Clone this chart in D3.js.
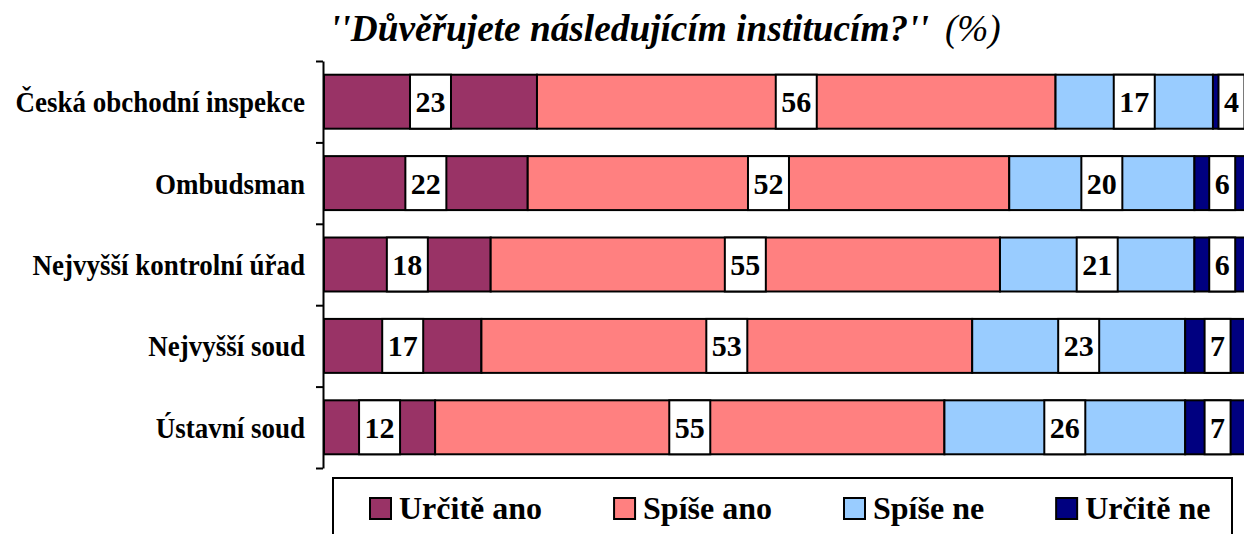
<!DOCTYPE html>
<html>
<head>
<meta charset="utf-8">
<script src="https://cdn.jsdelivr.net/npm/d3@7"></script>
<style>
  body { margin: 0; background: #fff; }
</style>
</head>
<body>
<div id="chart"></div>
<script>
// data
var categories = ["Česká obchodní inspekce", "Ombudsman", "Nejvyšší kontrolní úřad", "Nejvyšší soud", "Ústavní soud"]
var seriesNames = ["Určitě ano", "Spíše ano", "Spíše ne", "Určitě ne"]
var urciteAno = [23, 22, 18, 17, 12]
var spiseAno = [56, 52, 55, 53, 55]
var spiseNe = [17, 20, 21, 23, 26]
var urciteNe = [4, 6, 6, 7, 7]
var colors = ["#993366", "#FF8080", "#99CCFF", "#000080"]

var width = 1244, height = 534
var serif = "'Liberation Serif', 'Times New Roman', Times, serif"

var svg = d3.select("#chart")
  .append("svg")
    .attr("width", width)
    .attr("height", height)

// title - fitted to the width it has in the original
var title = svg.append("text")
  .attr("x", 330)
  .attr("y", 41)
  .attr("font-family", serif)
  .style("font-size", "30px")
  .style("font-style", "italic")
title.append("tspan").style("font-weight", "bold").text("''Důvěřujete následujícím institucím?''")
title.append("tspan").attr("dx", 16).text("(%)")
var tw = title.node().getComputedTextLength() + 16
title.style("font-size", (30 * 675 / tw) + "px")

// build rows for the stack
var rows = categories.map(function (c, i) {
  return { cat: c, "Určitě ano": urciteAno[i], "Spíše ano": spiseAno[i], "Spíše ne": spiseNe[i], "Určitě ne": urciteNe[i] }
})
var stacked = d3.stack().keys(seriesNames)(rows)

var x = d3.scaleLinear().domain([0, 100]).range([324, 1250])
var y = d3.scaleBand().domain(categories).range([61, 468]).paddingInner(0.337).paddingOuter(0.337 / 2)

var color = d3.scaleOrdinal().domain(seriesNames).range(colors)

// bars
var layer = svg.selectAll(".layer")
  .data(stacked)
  .enter()
  .append("g")
    .attr("fill", function (d) { return color(d.key) })

layer.selectAll("rect")
  .data(function (d) { return d })
  .enter()
  .append("rect")
    .attr("x", function (d) { return x(d[0]) })
    .attr("y", function (d) { return y(d.data.cat) })
    .attr("width", function (d) { return x(d[1]) - x(d[0]) })
    .attr("height", y.bandwidth())
    .attr("stroke", "#000")
    .attr("stroke-width", 2)

// value labels in white boxes
stacked.forEach(function (s) {
  s.forEach(function (d) {
    var cx = (x(d[0]) + x(d[1])) / 2
    var cy = y(d.data.cat) + y.bandwidth() / 2
    var v = d[1] - d[0]
    var g = svg.append("g")
    var t = g.append("text")
      .attr("x", cx)
      .attr("y", cy + 10.5)
      .attr("text-anchor", "middle")
      .attr("font-family", serif)
      .style("font-size", "30px")
      .style("font-weight", "bold")
      .text(v)
    var w = t.node().getComputedTextLength() + 11
    g.insert("rect", "text")
      .attr("x", cx - w / 2)
      .attr("y", y(d.data.cat))
      .attr("width", w)
      .attr("height", y.bandwidth())
      .attr("fill", "#fff")
      .attr("stroke", "#000")
      .attr("stroke-width", 2)
  })
})

// axis with ticks between categories
var yTicks = d3.scaleLinear().domain([0, categories.length]).range(y.range())
svg.append("g")
  .attr("transform", "translate(323,0)")
  .call(d3.axisLeft(yTicks).tickValues(d3.range(categories.length + 1)).tickFormat("").tickSize(7).tickSizeOuter(0))
  .call(function (g) { g.selectAll("line, path").attr("stroke", "#000").attr("stroke-width", 2) })

// category labels (slightly stretched vertically like the original)
svg.selectAll(".cat")
  .data(categories)
  .enter()
  .append("text")
    .attr("transform", function (d) { return "translate(305," + (y(d) + y.bandwidth() / 2 + 10.5) + ") scale(1,1.1)" })
    .attr("text-anchor", "end")
    .attr("font-family", serif)
    .style("font-size", "27px")
    .style("font-weight", "bold")
    .text(function (d) { return d })

// legend
svg.append("rect")
  .attr("x", 333)
  .attr("y", 478)
  .attr("width", 899)
  .attr("height", 70)
  .attr("fill", "none")
  .attr("stroke", "#000")
  .attr("stroke-width", 2)

var lx = 370
seriesNames.forEach(function (name) {
  var g = svg.append("g").attr("transform", "translate(" + lx + ",498)")
  g.append("rect")
    .attr("width", 21)
    .attr("height", 21)
    .attr("fill", color(name))
    .attr("stroke", "#000")
    .attr("stroke-width", 2)
  var t = g.append("text")
    .attr("x", 29)
    .attr("y", 21)
    .attr("font-family", serif)
    .style("font-size", "32px")
    .style("font-weight", "bold")
    .text(name)
  lx += 29 + t.node().getComputedTextLength() + 72
})
</script>
</body>
</html>
